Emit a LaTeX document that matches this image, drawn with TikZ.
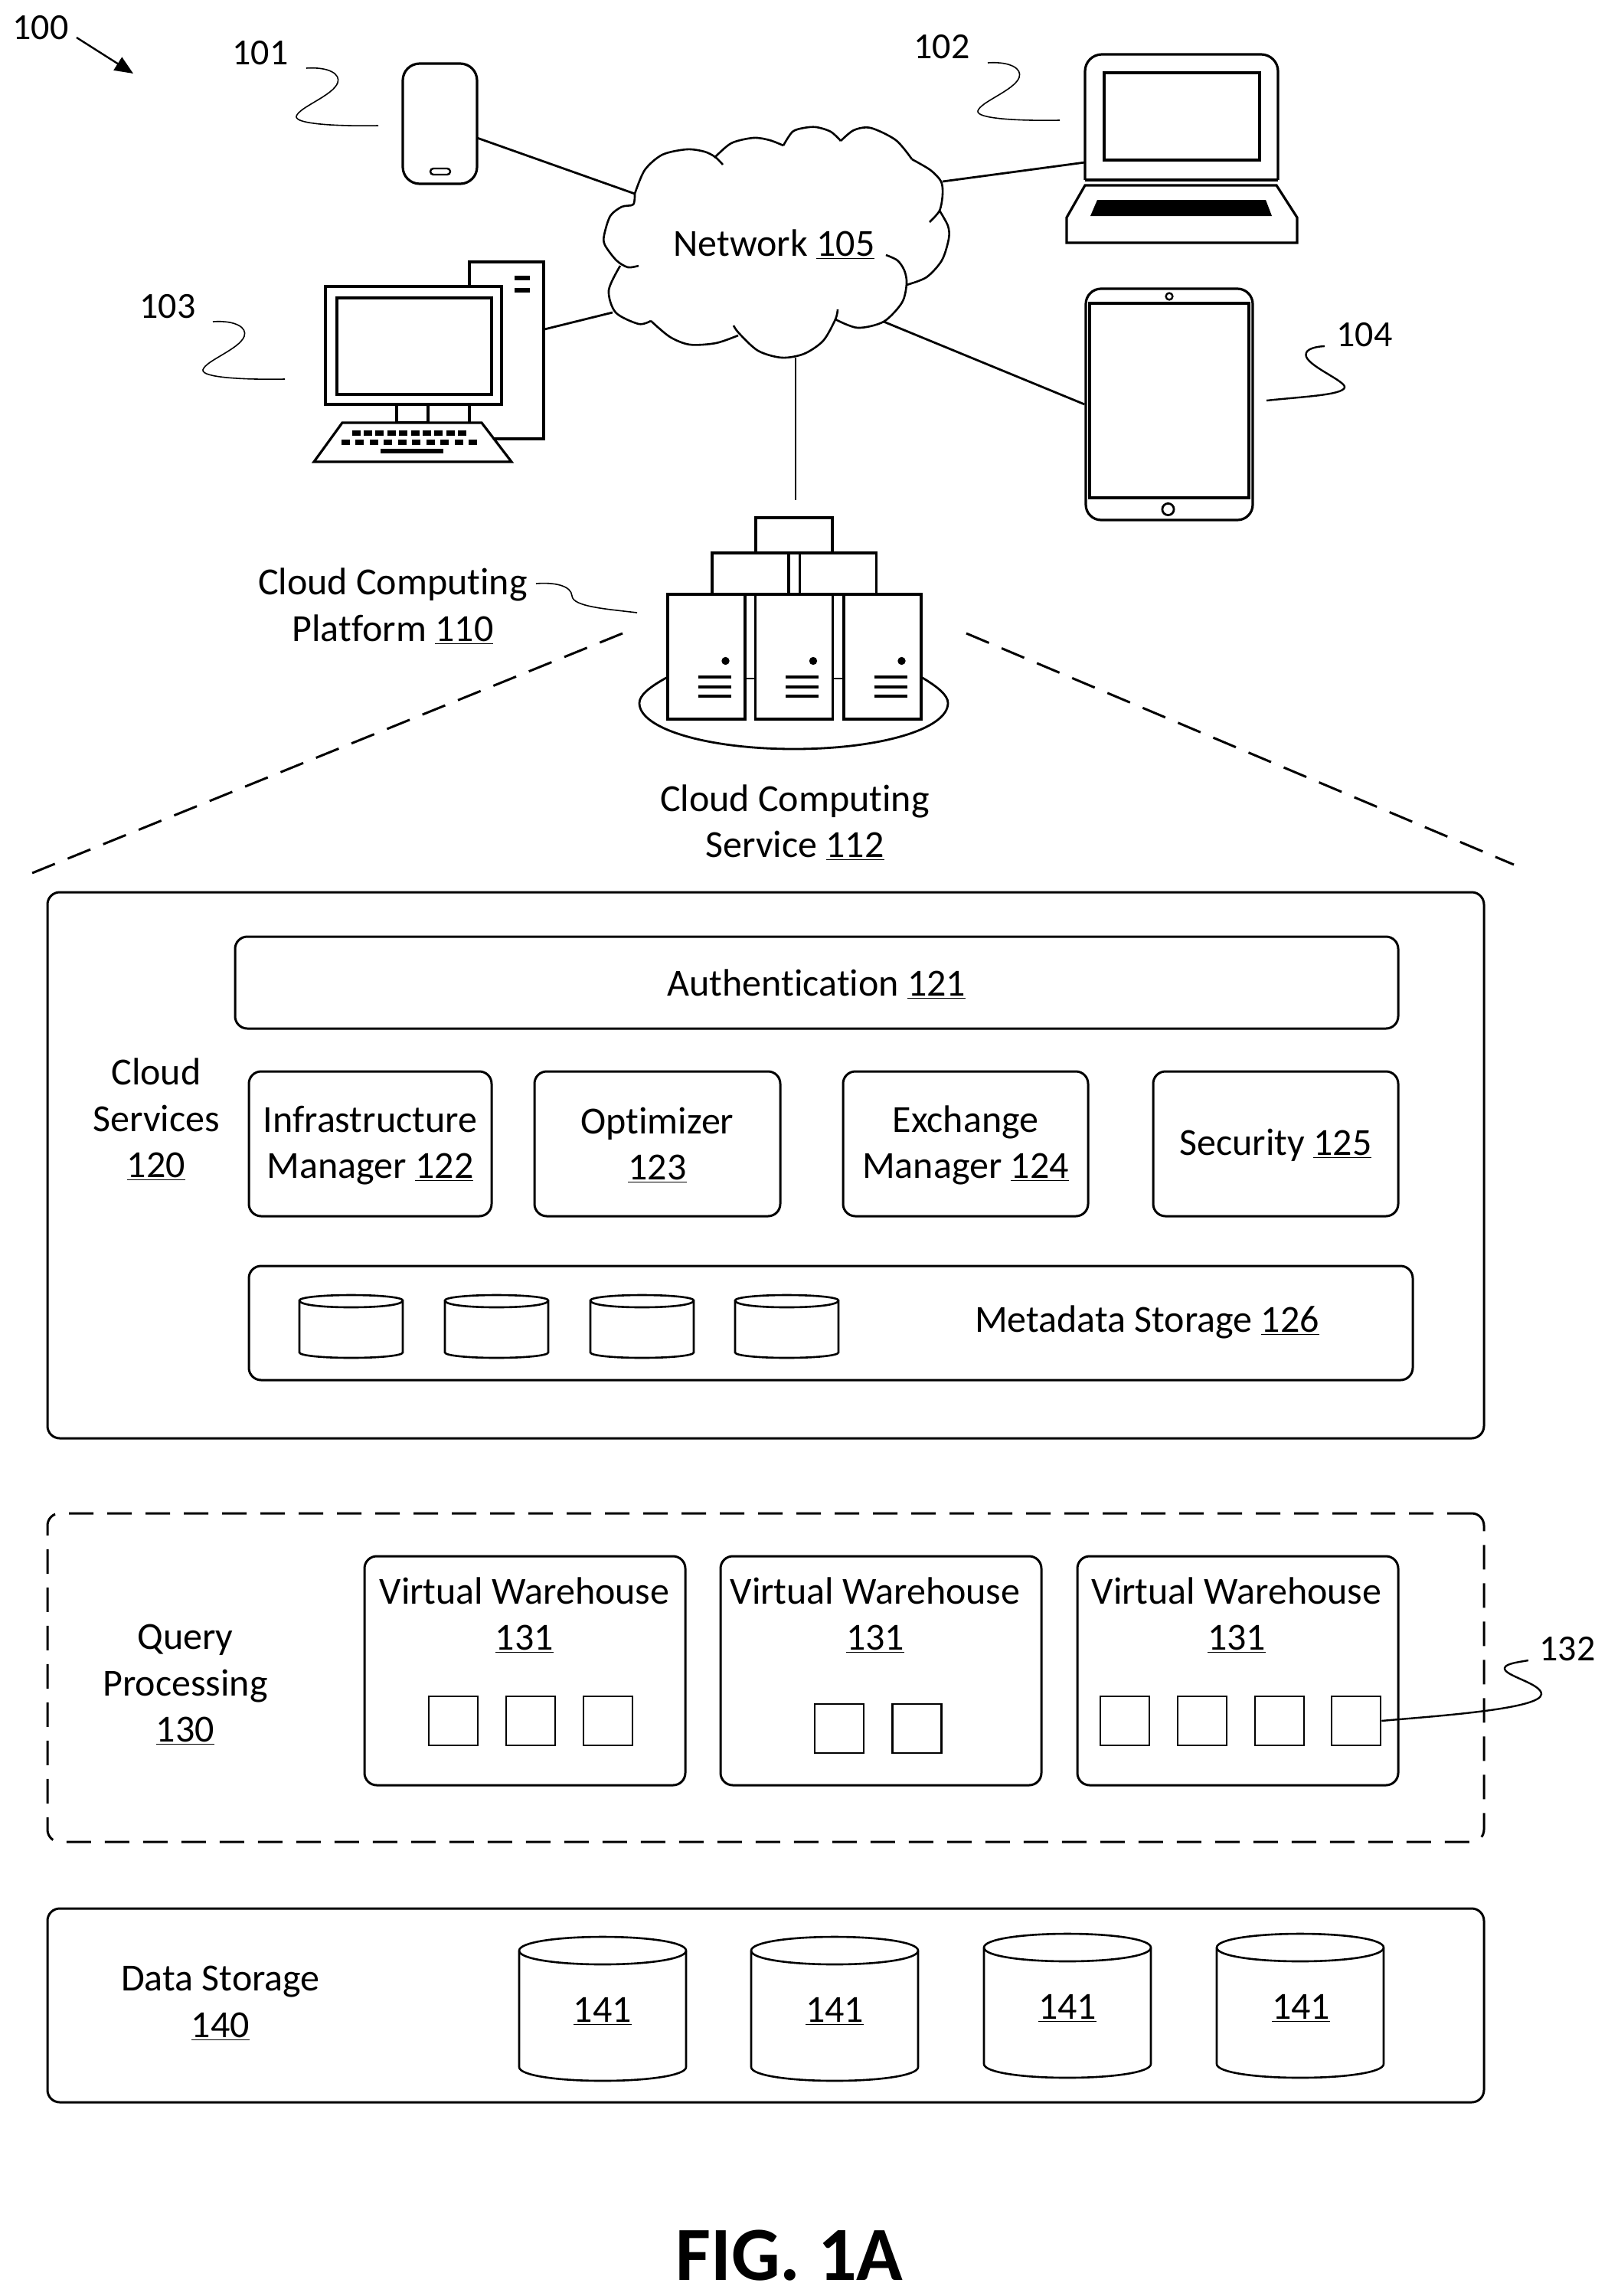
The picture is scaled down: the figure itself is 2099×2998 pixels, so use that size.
\documentclass[tikz,border=0pt]{standalone}
\usepackage{fontspec}
\setmainfont{Carlito}[Ligatures=NoCommon]
\usetikzlibrary{arrows.meta}
\tikzset{
  txt/.style={align=center,inner sep=0pt,yshift=-1pt,font=\fontsize{25}{30.2}\selectfont},
  tag/.style={inner sep=0pt,font=\fontsize{24}{28}\selectfont},
  panel/.style={draw,line width=1.5pt,rounded corners=8pt,inner sep=0pt},
  textpanel/.style={panel,align=center,font=\fontsize{25}{30.2}\selectfont},
  dashpanel/.style={panel,dash pattern=on 16pt off 9pt},
  chip/.style={draw,fill=white,line width=1.3pt,inner sep=0pt,minimum width=32pt,minimum height=32pt},
  icon/.style={draw,fill=white,line width=1.6pt,inner sep=0pt},
  link/.style={line width=1.4pt},
  cuts/.style={line width=1.5pt,dash pattern=on 16pt off 9pt},
  leader/.style={line width=.8pt},
  cloudline/.style={line width=1.3pt},
  smalldrum/.pic={
    \draw[line width=1.3pt] (0,0) .. controls (0,-4) and (30,-7) .. (67.5,-7) .. controls (105,-7) and (135,-4) .. (135,0) -- (135,68) .. controls (135,72) and (105,75) .. (67.5,75) .. controls (30,75) and (0,72) .. (0,68) -- cycle;
    \draw[line width=1.3pt] (0,0) .. controls (0,6) and (30,9) .. (67.5,9) .. controls (105,9) and (135,6) .. (135,0);
  },
  bigdrum/.pic={
    \draw[line width=1.3pt] (0,0) .. controls (0,-11) and (50,-18) .. (109,-18) .. controls (168,-18) and (218,-11) .. (218,0) -- (218,152) .. controls (218,163) and (168,170) .. (109,170) .. controls (50,170) and (0,163) .. (0,152) -- cycle;
    \draw[line width=1.3pt] (0,0) .. controls (0,11) and (50,18) .. (109,18) .. controls (168,18) and (218,11) .. (218,0);
  }
}
% squiggle running from a named start point
\newcommand{\squiggle}[1]{\draw[leader] (#1) .. controls +(30,-2) and +(4,-11) .. ++(41,19) .. controls +(-6,17) and +(3,-12) .. ++(-54,44) .. controls +(-2,10) and +(-54,1) .. ++(107,12);}
\begin{document}
\begin{tikzpicture}[x=.5pt,y=-.5pt]
  \useasboundingbox (0,0) rectangle (2099,2998);

  % figure number
  \node[tag] (n100) at (53,36) {100};
  \coordinate (n100a) at (100,49);
  \coordinate (n100b) at (174,96);
  \draw[line width=1.2pt,-{Stealth[length=12pt,width=10pt,inset=0pt]}] (n100a) -- (n100b);

  % cloud
  \draw[cloudline] plot[smooth] coordinates {(829,253) (842,222) (865,202) (897,195) (920,198) (934,205) (944,215)};
  \draw[cloudline] plot[smooth] coordinates {(933,206) (955,187) (984,180) (1005,183) (1023,190)};
  \draw[cloudline] plot[smooth] coordinates {(1023,190) (1035,172) (1050,167) (1066,166) (1085,172) (1098,184)};
  \draw[cloudline] plot[smooth] coordinates {(1098,184) (1115,170) (1137,167) (1170,183) (1191,208)};
  \draw[cloudline] plot[smooth] coordinates {(1191,208) (1215,222) (1229,237) (1231,254) (1227,275) (1214,290)};
  \draw[cloudline] plot[smooth] coordinates {(1227,275) (1238,295) (1239,312) (1230,340) (1210,362) (1184,372)};
  \draw[cloudline] plot[smooth] coordinates {(1157,333) (1172,340) (1181,353) (1184,370) (1178,395) (1154,420) (1120,428) (1091,417)};
  \draw[cloudline] plot[smooth] coordinates {(1094,404) (1091,417) (1075,445) (1050,462) (1021,467) (990,458) (965,435) (958,425)};
  \draw[cloudline] plot[smooth] coordinates {(964,438) (935,448) (901,450) (875,440) (850,419)};
  \draw[cloudline] plot[smooth] coordinates {(850,419) (834,423) (804,408) (795,379) (810,347)};
  \draw[cloudline] plot[smooth] coordinates {(834,347) (820,349) (805,340) (790,320) (789,307) (797,282) (812,270) (827,267) (829,253)};
  \node[txt] (network) at (1011,317) {Network \underline{105}};
  \coordinate (cloudphone) at (829,253);
  \coordinate (cloudlaptop) at (1231,237);
  \coordinate (cloudtablet) at (1154,420);
  \coordinate (clouddesk) at (800,408);
  \coordinate (cloudrack) at (1039,467);

  % phone
  \node[icon,rounded corners=11pt,minimum width=48.5pt,minimum height=78.5pt] (phone) at (574.5,161.5) {};
  \node[icon,rounded corners=2pt,line width=1.2pt,minimum width=13pt,minimum height=4pt] (phonekey) at (575,224) {};
  \coordinate (phoneport) at (623,180);
  \draw[link] (phoneport) -- (cloudphone);
  \node[tag] (n101) at (340,69) {101};
  \coordinate (lead101) at (400,89);
  \squiggle{lead101}

  % laptop
  \draw[line width=1.6pt,rounded corners=11pt] (1417,235) -- (1417,71) -- (1669,71) -- (1669,235);
  \draw[line width=1.6pt] (1417,235) -- (1669,235);
  \node[icon,minimum width=101.5pt,minimum height=57pt] (laptopscreen) at (1543.5,152) {};
  \draw[line width=1.6pt] (1417,242) -- (1667,242) -- (1694,284) -- (1694,317) -- (1393,317) -- (1393,284) -- cycle;
  \fill (1433,261) -- (1653,261) -- (1661,282) -- (1424,282) -- cycle;
  \coordinate (laptopport) at (1417,212);
  \draw[link] (cloudlaptop) -- (laptopport);
  \node[tag] (n102) at (1230,61) {102};
  \coordinate (lead102) at (1290,82);
  \squiggle{lead102}

  % desktop
  \node[icon,minimum width=48.5pt,minimum height=115.5pt] (tower) at (661.5,457.5) {};
  \fill (672,360) rectangle (692,366);
  \fill (672,376) rectangle (692,382);
  \node[icon,minimum width=115pt,minimum height=77pt] (monitor) at (540,451) {};
  \node[icon,minimum width=101pt,minimum height=63pt] (deskscreen) at (541,452) {};
  \node[icon,minimum width=20.5pt,minimum height=12pt] (neck) at (538.5,540) {};
  \draw[line width=1.6pt,fill=white] (447,552) -- (629,552) -- (668,603) -- (410,603) -- cycle;
  \foreach \k in {0,...,9} {
    \fill ({459.5+15.4*\k},561.5) rectangle ++(11,7);
    \fill ({445.5+18.5*\k},573.5) rectangle ++(11,7);
  }
  \fill (497,586) rectangle (579,592);
  \coordinate (deskport) at (711,430);
  \draw[link] (deskport) -- (clouddesk);
  \node[tag] (n103) at (219,400) {103};
  \coordinate (lead103) at (278,420);
  \squiggle{lead103}

  % tablet
  \node[icon,rounded corners=10pt,minimum width=109pt,minimum height=151pt] (tablet) at (1527,528) {};
  \node[icon,minimum width=104pt,minimum height=127pt] (tabletscreen) at (1527,523) {};
  \draw[line width=1.2pt] (1527,387) circle[radius=2.2pt];
  \draw[line width=1.4pt] (1525.5,665) circle[radius=3.8pt];
  \draw[link] (cloudtablet) -- (tablet.west);
  \node[tag] (n104) at (1782,437) {104};
  \coordinate (lead104a) at (1730,452);
  \coordinate (lead104b) at (1654,523);
  \draw[line width=1.2pt] (lead104a) .. controls (1712,453) and (1703,458) .. (1706,466) .. controls (1712,480) and (1758,498) .. (1756,506) .. controls (1753,516) and (1700,518) .. (lead104b);

  % servers
  \draw[line width=1.4pt] (872,884) .. controls (848,897) and (835,908) .. (835,918) .. controls (835,952) and (925,978) .. (1037,978) .. controls (1149,978) and (1238,952) .. (1238,918) .. controls (1238,908) and (1225,897) .. (1203,884);
  \node[icon,minimum width=50pt,minimum height=23pt] (stacktop) at (1037,699) {};
  \node[icon,minimum width=50pt,minimum height=27pt] (stackl) at (980,749) {};
  \node[icon,minimum width=50pt,minimum height=27pt] (stackr) at (1094.5,749) {};
  \foreach \r/\cx in {a/922.5,b/1037,c/1152.5} {
    \node[icon,minimum width=50.5pt,minimum height=81.5pt] (rack\r) at (\cx,857.5) {};
    \fill (\cx+25,863) circle[radius=2.6pt];
    \foreach \by in {884,897,909}
      \draw[line width=1.8pt] (\cx-11,\by) -- (\cx+32,\by);
  }
  \draw[line width=1.4pt] (racka.east |- 0,886) -- (rackb.west |- 0,886);
  \draw[line width=1.4pt] (rackb.east |- 0,886) -- (rackc.west |- 0,886);
  \coordinate (rackport) at (1039,653);
  \draw[line width=1.2pt] (cloudrack) -- (rackport);

  \node[txt] (platform) at (513,790) {Cloud Computing\\Platform \underline{110}};
  \coordinate (lead110a) at (700,762);
  \coordinate (lead110b) at (832,800);
  \draw[leader] (lead110a) .. controls (725,760) and (746,765) .. (747,778) .. controls (748,792) and (790,795) .. (lead110b);
  \node[txt] (service) at (1038,1072) {Cloud Computing\\Service \underline{112}};

  % zoom lines
  \coordinate (cutla) at (813,827);
  \coordinate (cutlb) at (42,1140);
  \coordinate (cutra) at (1262,827);
  \coordinate (cutrb) at (1977,1129);
  \draw[cuts] (cutla) -- (cutlb);
  \draw[cuts] (cutra) -- (cutrb);

  % cloud services
  \node[panel,minimum width=938pt,minimum height=356.5pt] (services) at (1000,1521.5) {};
  \node[txt] (serviceslabel) at (204,1460) {Cloud\\Services\\\underline{120}};
  \node[panel,minimum width=759.5pt,minimum height=60pt] (auth) at (1066.5,1283) {};
  \node[txt] (authlabel) at (1066.5,1283) {Authentication \underline{121}};
  \node[panel,minimum width=158.5pt,minimum height=94.5pt] (infra) at (483.5,1493.5) {};
  \node[txt] (infralabel) at (483.5,1493.5) {Infrastructure\\Manager \underline{122}};
  \node[panel,minimum width=160.5pt,minimum height=94.5pt] (optim) at (858.5,1493.5) {};
  \node[txt] (optimlabel) at (858.5,1493.5) {Optimizer\\\underline{123}};
  \node[panel,minimum width=160pt,minimum height=94.5pt] (exchange) at (1261,1493.5) {};
  \node[txt] (exchangelabel) at (1261,1493.5) {Exchange\\Manager \underline{124}};
  \node[panel,minimum width=160pt,minimum height=94.5pt] (security) at (1666,1493.5) {};
  \node[txt] (securitylabel) at (1666,1493.5) {Security \underline{125}};
  \node[panel,minimum width=760pt,minimum height=74.5pt] (metadata) at (1085,1727.5) {};
  \node[txt] (metalabel) at (1498,1724) {Metadata Storage \underline{126}};
  \foreach \dx in {391,581,771,960}
    \pic at (\dx,1698) {smalldrum};

  % query processing
  \node[dashpanel,minimum width=938pt,minimum height=214.5pt] (query) at (1000,2190.5) {};
  \node[txt] (querylabel) at (242,2198) {Query\\Processing\\\underline{130}};
  \node[panel,minimum width=209.5pt,minimum height=149.5pt] (wha) at (685.5,2181.5) {};
  \node[panel,minimum width=209.5pt,minimum height=149.5pt] (whb) at (1150.5,2181.5) {};
  \node[panel,minimum width=209.5pt,minimum height=149.5pt] (whc) at (1616.5,2181.5) {};
  \node[txt] (whatext) at (685,2107) {Virtual Warehouse\\\underline{131}};
  \node[txt] (whbtext) at (1143,2107) {Virtual Warehouse\\\underline{131}};
  \node[txt] (whctext) at (1615,2107) {Virtual Warehouse\\\underline{131}};
  \node[chip] (a1) at (592,2247) {};
  \node[chip] (a2) at (693,2247) {};
  \node[chip] (a3) at (794,2247) {};
  \node[chip] (b1) at (1096,2257) {};
  \node[chip] (b2) at (1197.5,2257) {};
  \node[chip] (c1) at (1469,2247) {};
  \node[chip] (c2) at (1570,2247) {};
  \node[chip] (c3) at (1671,2247) {};
  \node[chip] (c4) at (1771,2247) {};
  \node[tag] (n132) at (2047,2153) {132};
  \coordinate (lead132) at (1996,2168);
  \draw[line width=1.2pt] (c4.east) .. controls (1870,2241) and (2013,2232) .. (2013,2212) .. controls (2013,2198) and (1963,2188) .. (1965,2178) .. controls (1966,2172) and (1985,2170) .. (lead132);

  % data storage
  \node[panel,minimum width=938pt,minimum height=126.5pt] (storage) at (1000,2618.5) {};
  \node[txt] (storagelabel) at (288,2614) {Data Storage\\\underline{140}};
  \pic at (678,2547) {bigdrum};
  \pic at (981,2547) {bigdrum};
  \pic at (1285,2543) {bigdrum};
  \pic at (1589,2543) {bigdrum};
  \node[txt] (d1) at (787,2624) {\underline{141}};
  \node[txt] (d2) at (1090,2624) {\underline{141}};
  \node[txt] (d3) at (1394,2620) {\underline{141}};
  \node[txt] (d4) at (1699,2620) {\underline{141}};

  \node[inner sep=0pt,font=\bfseries\fontsize{50}{54}\selectfont] (fig) at (1031,2945) {FIG. 1A};
\end{tikzpicture}
\end{document}
